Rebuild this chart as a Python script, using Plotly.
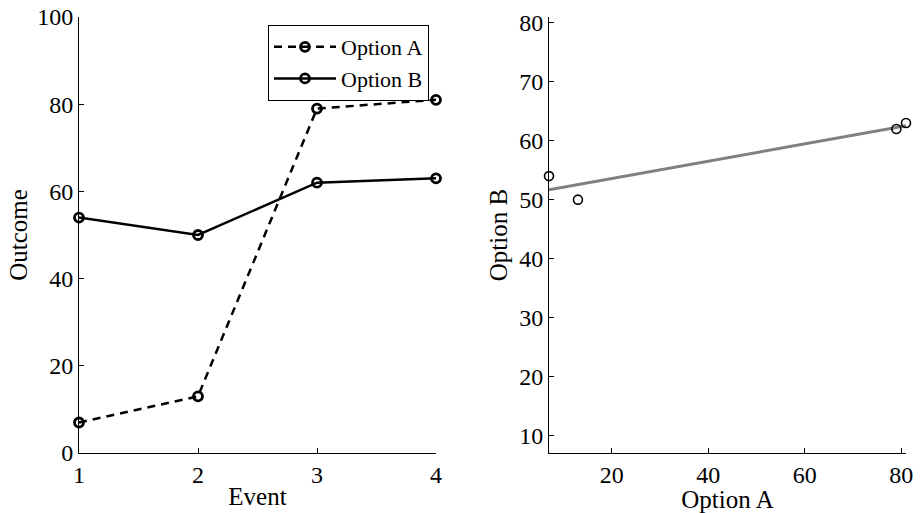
import numpy as np
import plotly.graph_objects as go

events = [1, 2, 3, 4]
option_a = [7, 13, 79, 81]
option_b = [54, 50, 62, 63]

FONT = "Liberation Serif"
W, H = 921, 513

def px_x(a, b):
    return [a / W, b / W]

def px_y(top, bottom):
    return [1 - bottom / H, 1 - top / H]

fig = go.Figure()

fig.add_trace(go.Scatter(
    x=events, y=option_a, name="Option A", mode="lines+markers",
    line=dict(color="black", width=2.5, dash="8px,6px"),
    marker=dict(symbol="circle-open", size=9, color="black", line=dict(width=2.8, color="black")),
    xaxis="x", yaxis="y", cliponaxis=False,
))
fig.add_trace(go.Scatter(
    x=events, y=option_b, name="Option B", mode="lines+markers",
    line=dict(color="black", width=2.5),
    marker=dict(symbol="circle-open", size=9, color="black", line=dict(width=2.8, color="black")),
    xaxis="x", yaxis="y", cliponaxis=False,
))

slope, intercept = np.polyfit(option_a, option_b, 1)
xs = np.array([min(option_a), max(option_a)])
fig.add_trace(go.Scatter(
    x=xs, y=slope * xs + intercept, mode="lines", showlegend=False,
    line=dict(color="#808080", width=3), xaxis="x2", yaxis="y2", cliponaxis=False,
))
fig.add_trace(go.Scatter(
    x=option_a, y=option_b, mode="markers", showlegend=False,
    marker=dict(symbol="circle-open", size=9, color="black", line=dict(width=1.6, color="black")),
    xaxis="x2", yaxis="y2", cliponaxis=False,
))

axis_common = dict(
    showline=True, linecolor="black", linewidth=1, ticks="inside", ticklen=5,
    tickcolor="black", tickwidth=1, showgrid=False, zeroline=False, automargin=False,
    tickfont=dict(family=FONT, size=24, color="black"),
    title_font=dict(family=FONT, size=25, color="black"),
)

fig.update_layout(
    width=W, height=H, margin=dict(l=0, r=0, t=0, b=0),
    paper_bgcolor="white", plot_bgcolor="white",
    xaxis=dict(domain=px_x(79, 436), range=[1, 4], tickvals=[1, 2, 3, 4],
               title=dict(text="Event", standoff=0), anchor="y", **axis_common),
    yaxis=dict(domain=px_y(17, 453), range=[0, 100], tickvals=[0, 20, 40, 60, 80, 100],
               title=dict(text="Outcome", standoff=2), anchor="x", **axis_common),
    xaxis2=dict(domain=px_x(549, 906), range=[7, 81], tickvals=[20, 40, 60, 80],
                title=dict(text="Option A", standoff=0), anchor="y2", **axis_common),
    yaxis2=dict(domain=px_y(17, 453), range=[7, 81], tickvals=[10, 20, 30, 40, 50, 60, 70, 80],
                title=dict(text="Option B", standoff=4), anchor="x2", **axis_common),
    legend=dict(x=429 / W, y=1 - 25 / H, xanchor="right", yanchor="top",
                bordercolor="black", borderwidth=1, bgcolor="white",
                font=dict(family=FONT, size=22, color="black"),
                tracegroupgap=0, itemwidth=62),
    showlegend=True,
)

fig.write_html("out.html")
